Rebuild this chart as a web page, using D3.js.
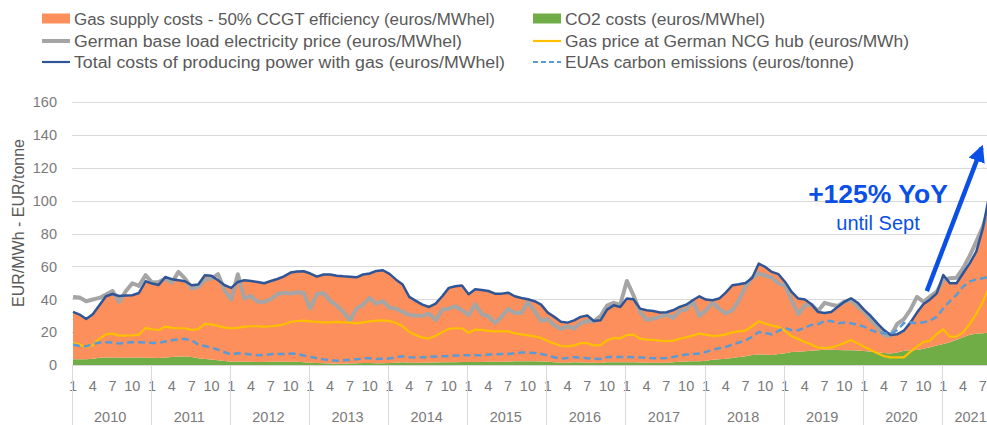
<!DOCTYPE html>
<html>
<head>
<meta charset="utf-8">
<script src="https://cdn.jsdelivr.net/npm/d3@7"></script>
<style>
  html, body { margin: 0; padding: 0; background: #ffffff; overflow: hidden; }
  svg { display: block; }
</style>
</head>
<body>
<svg id="chart" width="987" height="425"></svg>
<script>
// ---------- DATA (monthly, Jan 2010 .. Aug 2021; 2021 group runs to Sept) ----------
const years = ["2010","2011","2012","2013","2014","2015","2016","2017","2018","2019","2020","2021"];
const monthsInYear = [12,12,12,12,12,12,12,12,12,12,12,9];
const monthTickLabels = [1, 4, 7, 10];
const yTicks = [0, 20, 40, 60, 80, 100, 120, 140, 160];

// CO2 costs (euros/MWhel) - green stacked area
const co2Costs = [
  3.6,3.6,3.6,4.0,4.6,4.8,4.8,4.6,4.6,4.7,4.7,4.6,
  4.6,4.5,4.8,5.1,5.3,5.3,5.0,4.3,3.9,3.5,3.1,2.6,
  2.2,2.3,2.2,2.1,2.0,2.0,2.1,2.1,2.1,2.2,2.1,1.9,
  1.6,1.4,1.2,1.1,1.0,1.0,1.1,1.2,1.4,1.4,1.3,1.3,
  1.4,1.6,1.8,1.6,1.6,1.6,1.7,1.7,1.8,1.9,1.9,2.0,
  2.0,2.0,2.0,2.1,2.2,2.2,2.2,2.4,2.5,2.5,2.4,2.3,
  2.1,1.8,1.5,1.6,1.8,1.7,1.6,1.5,1.4,1.8,1.8,1.8,
  1.8,1.8,1.7,1.6,1.6,1.6,1.6,1.8,2.1,2.3,2.4,2.5,
  2.8,3.3,3.6,4.0,4.5,5.0,5.5,6.2,6.6,6.5,6.3,6.8,
  7.3,8.0,8.3,8.5,8.8,9.2,9.5,9.5,9.3,9.2,9.1,9.0,
  8.7,8.3,7.9,7.5,7.2,7.8,8.9,9.2,9.3,10.0,11.0,12.0,
  13.0,14.0,15.5,17.0,18.5,19.2,19.5,19.8
];

// Gas supply costs - 50% CCGT efficiency (euros/MWhel) - orange stacked area
const gasSupplyCosts = [
  28.8,27.2,24.5,27.0,31.8,37.1,38.5,37.5,37.7,37.8,39.2,46.4,
  45.0,44.3,48.8,47.1,46.3,45.7,43.6,44.7,50.8,50.8,48.5,46.0,
  44.8,48.3,49.4,49.1,48.6,47.8,49.1,50.3,51.9,54.1,54.8,55.2,
  54.1,52.4,53.9,54.0,53.3,53.0,52.7,52.2,53.7,54.3,56.0,56.4,
  54.1,50.4,47.2,39.9,37.5,35.2,33.7,35.7,40.1,45.1,46.1,46.4,
  41.1,44.2,43.7,43.0,41.3,41.3,41.9,39.5,38.4,37.6,36.5,34.5,
  29.9,27.6,25.0,24.3,25.5,27.7,28.6,25.4,25.9,32.0,34.6,33.6,
  38.7,38.3,32.7,31.8,31.4,30.4,30.6,31.6,33.3,34.5,37.1,39.4,
  37.1,36.2,36.9,40.1,44.1,44.2,44.5,46.8,55.1,53.2,50.4,48.5,
  43.3,36.5,32.2,31.4,28.2,23.2,22.3,22.9,26.2,29.3,31.6,29.0,
  24.9,21.6,17.6,13.9,11.2,11.0,12.1,16.7,22.7,27.2,29.0,31.7,
  41.8,35.8,34.3,38.9,43.4,49.8,63.7,84.2
];

// Total costs of producing power with gas (euros/MWhel) - dark blue line
const totalCosts = [
  32.4,30.8,28.1,31.0,36.4,41.9,43.3,42.1,42.3,42.5,43.9,51.0,
  49.6,48.8,53.6,52.2,51.6,51.0,48.6,49.0,54.7,54.3,51.6,48.6,
  47.0,50.6,51.6,51.2,50.6,49.8,51.2,52.4,54.0,56.3,56.9,57.1,
  55.7,53.8,55.1,55.1,54.3,54.0,53.8,53.4,55.1,55.7,57.3,57.7,
  55.5,52.0,49.0,41.5,39.1,36.8,35.4,37.4,41.9,47.0,48.0,48.4,
  43.1,46.2,45.7,45.1,43.5,43.5,44.1,41.9,40.9,40.1,38.9,36.8,
  32.0,29.4,26.5,25.9,27.3,29.4,30.2,26.9,27.3,33.8,36.4,35.4,
  40.5,40.1,34.4,33.4,33.0,32.0,32.2,33.4,35.4,36.8,39.5,41.9,
  39.9,39.5,40.5,44.1,48.6,49.2,50.0,53.0,61.7,59.7,56.7,55.3,
  50.6,44.5,40.5,39.9,37.0,32.4,31.8,32.4,35.5,38.5,40.7,38.0,
  33.6,29.9,25.5,21.4,18.4,18.8,21.0,25.9,32.0,37.2,40.0,43.7,
  54.8,49.8,49.8,55.9,61.9,69.0,83.2,104.0
];

// German base load electricity price (euros/MWhel) - grey line
const electricityPrice = [
  41.5,41.1,38.9,39.9,40.9,42.9,45.1,38.5,44.9,49.8,48.2,54.7,
  50.2,50.6,52.6,50.2,56.7,52.6,46.6,47.6,52.0,52.6,55.3,45.5,
  40.0,55.3,40.5,42.1,38.5,38.5,40.1,43.1,44.1,43.5,44.3,43.9,
  34.4,43.3,43.9,39.1,36.4,32.4,27.3,34.4,36.8,40.9,37.4,38.9,
  35.0,34.4,32.4,30.6,30.2,30.0,31.4,27.5,33.8,34.4,35.8,33.4,
  30.4,37.0,31.0,29.8,25.7,29.4,34.2,31.8,31.8,38.5,32.8,26.9,
  28.0,24.3,22.1,23.7,22.3,25.7,26.9,26.7,29.8,36.2,37.9,36.8,
  51.2,42.5,32.4,27.7,28.3,29.4,30.8,28.7,33.0,33.8,39.0,30.0,
  33.4,37.9,34.4,31.4,33.4,39.5,47.6,53.2,55.7,54.5,53.2,49.6,
  48.6,39.5,31.0,36.4,36.8,33.0,37.9,36.8,36.0,38.6,39.7,35.6,
  32.6,27.5,23.5,18.4,17.8,25.1,27.9,33.6,41.5,38.5,41.7,44.7,
  51.8,52.8,53.2,58.9,66.4,75.1,84.2,96.3
];

// Gas price at German NCG hub (euros/MWh) - yellow line
const gasPrice = [
  13.6,12.6,11.1,12.1,16.2,18.8,19.2,18.0,18.0,18.2,18.6,22.7,
  21.9,21.3,23.5,22.7,22.5,22.5,21.5,21.9,25.1,24.9,23.9,22.9,
  22.5,22.7,23.5,23.7,23.7,23.5,23.7,24.1,24.9,26.3,26.9,27.1,
  26.7,26.3,26.1,26.1,26.3,26.1,25.9,25.5,26.1,26.7,27.1,27.3,
  26.8,25.7,23.7,20.2,18.4,16.8,16.2,18.0,20.0,22.1,22.5,22.5,
  19.6,21.7,21.5,20.9,20.6,20.6,20.6,19.4,18.8,18.2,17.6,16.6,
  14.8,13.2,11.7,11.5,12.1,13.4,13.4,12.1,12.3,15.2,16.6,16.4,
  18.4,18.6,16.2,15.6,15.4,15.0,14.6,15.0,16.0,17.0,18.0,19.2,
  18.6,17.8,18.0,18.8,20.0,20.6,21.1,23.7,26.7,25.3,24.1,23.3,
  20.9,17.6,16.0,14.2,12.6,10.7,10.5,10.9,12.0,13.5,15.4,13.3,
  11.3,9.3,7.3,5.6,4.8,4.8,4.8,8.1,11.3,14.2,15.0,19.0,
  21.8,17.4,17.4,20.0,25.1,31.2,38.6,47.7
];

// EUAs carbon emissions (euros/tonne) - dashed light-blue line
const euaPrice = [
  12.6,11.7,11.5,12.8,13.8,14.0,13.8,13.2,13.8,14.0,14.0,13.8,
  13.6,13.6,14.4,15.2,15.8,16.0,15.2,12.6,11.7,10.7,9.5,7.9,
  6.6,7.3,7.1,6.5,6.1,6.3,6.7,6.9,6.9,7.1,6.9,5.9,
  5.1,4.3,3.6,3.2,2.8,3.0,3.4,3.6,4.3,4.3,3.8,4.0,
  4.2,4.9,5.5,4.9,4.7,4.9,5.1,5.3,5.5,5.7,5.9,6.1,
  6.1,6.1,6.1,6.5,6.7,6.9,6.9,7.3,7.7,7.7,7.5,6.9,
  6.0,4.9,4.0,4.5,4.9,4.7,4.3,4.0,3.8,4.9,5.1,5.1,
  5.1,4.9,4.7,4.5,4.3,4.3,4.5,5.1,5.9,6.5,6.8,7.1,
  8.1,9.5,10.3,11.1,12.6,13.8,15.2,17.2,20.2,19.6,18.8,20.9,
  22.7,21.3,21.3,22.9,24.5,24.9,26.9,26.9,25.5,25.9,25.5,24.5,
  23.5,21.4,20.0,19.4,19.0,21.4,25.5,26.1,25.5,26.1,27.1,29.5,
  34.6,39.0,42.7,47.8,50.8,52.2,52.8,53.8
];

const legendLabels = [
  "Gas supply costs - 50% CCGT efficiency (euros/MWhel)",
  "CO2 costs (euros/MWhel)",
  "German base load electricity price (euros/MWhel)",
  "Gas price at German NCG hub  (euros/MWh)",
  "Total costs of producing power with gas (euros/MWhel)",
  "EUAs carbon emissions (euros/tonne)"
];
const yAxisTitle = "EUR/MWh - EUR/tonne";
const annotationMain = "+125% YoY";
const annotationSub = "until Sept";

// ---------- STYLE / LAYOUT ----------
const W = 987, H = 425;
const C = {
  orange: "#FC8F5B", green: "#70AD47", grey: "#A5A5A5", yellow: "#FFC000",
  blue: "#2F5597", dash: "#5B9BD5", grid: "#D9D9D9", text: "#595959", tick: "#7A7A7A",
  arrow: "#0A50E6"
};
const font = "'Liberation Sans', Arial, sans-serif";

const svg = d3.select("#chart");

const n = totalCosts.length;
const monthStep = 79.12 / 12;
const x = d3.scaleLinear().domain([0, n - 1]).range([73, 73 + (n - 1) * monthStep]);
const y = d3.scaleLinear().domain([0, 160]).range([365.3, 101.7]);
const plotLeft = 72, plotRight = W;

// gridlines
svg.append("g").selectAll("line").data(yTicks).join("line")
  .attr("x1", plotLeft).attr("x2", plotRight)
  .attr("y1", d => Math.round(y(d)) + 0.5).attr("y2", d => Math.round(y(d)) + 0.5)
  .attr("stroke", C.grid).attr("stroke-width", 1);

// y axis tick labels via d3.axisLeft (domain hidden)
const yAxis = svg.append("g").attr("transform", "translate(60,0)")
  .call(d3.axisLeft(y).tickValues(yTicks).tickSize(0).tickPadding(3));
yAxis.select(".domain").remove();
yAxis.selectAll("text").attr("fill", C.tick).style("font-family", font).style("font-size", "14.5px");

// y axis title
svg.append("text")
  .attr("transform", `translate(24,223) rotate(-90)`)
  .attr("text-anchor", "middle")
  .attr("fill", C.text).style("font-family", font).style("font-size", "16px")
  .text(yAxisTitle);

// stacked areas
const idx = d3.range(n);
const stackData = idx.map(i => ({ co2: co2Costs[i], gas: gasSupplyCosts[i] }));
const stacked = d3.stack().keys(["co2", "gas"])(stackData);
const area = d3.area().x((d, i) => x(i)).y0(d => y(d[0])).y1(d => y(d[1]));
svg.append("g").selectAll("path").data(stacked).join("path")
  .attr("d", area)
  .attr("fill", d => d.key === "co2" ? C.green : C.orange);

// lines
const lineGen = arr => d3.line().x((d, i) => x(i)).y(d => y(d))(arr);
svg.append("path").attr("d", lineGen(electricityPrice)).attr("fill", "none")
  .attr("stroke", C.grey).attr("stroke-width", 4).attr("stroke-linejoin", "round");
svg.append("path").attr("d", lineGen(gasPrice)).attr("fill", "none")
  .attr("stroke", C.yellow).attr("stroke-width", 2.2).attr("stroke-linejoin", "round");
svg.append("path").attr("d", lineGen(totalCosts)).attr("fill", "none")
  .attr("stroke", C.blue).attr("stroke-width", 2.5).attr("stroke-linejoin", "round");
svg.append("path").attr("d", lineGen(euaPrice)).attr("fill", "none")
  .attr("stroke", C.dash).attr("stroke-width", 2.5).attr("stroke-dasharray", "7,4");

// x axis baseline
svg.append("line").attr("x1", plotLeft).attr("x2", plotRight)
  .attr("y1", Math.round(y(0)) + 0.5).attr("y2", Math.round(y(0)) + 0.5)
  .attr("stroke", C.grid).attr("stroke-width", 1);

// month labels and year groups
const monthG = svg.append("g");
let start = 0;
years.forEach((yr, k) => {
  const len = monthsInYear[k];
  monthTickLabels.filter(m => m <= len).forEach(m => {
    const i = start + (m - 1);
    monthG.append("text")
      .attr("x", x(i)).attr("y", 391)
      .attr("text-anchor", "middle")
      .attr("fill", C.tick).style("font-family", font).style("font-size", "14.5px")
      .text(m);
  });
  const bx0 = x(start) - 1.4, bx1 = x(start + len) - 1.4;
  svg.append("line").attr("x1", Math.round(bx0) + 0.5).attr("x2", Math.round(bx0) + 0.5)
    .attr("y1", y(0)).attr("y2", H).attr("stroke", C.grid).attr("stroke-width", 1);
  svg.append("text").attr("x", (bx0 + bx1) / 2 - 1).attr("y", 422)
    .attr("text-anchor", "middle")
    .attr("fill", C.tick).style("font-family", font).style("font-size", "14.5px")
    .text(yr);
  start += len;
});

// legend
const legendItems = [
  { label: legendLabels[0], kind: "rect", color: C.orange, col: 0, row: 0, len: 421 },
  { label: legendLabels[1], kind: "rect", color: C.green, col: 1, row: 0, len: 200 },
  { label: legendLabels[2], kind: "line", color: C.grey, w: 4, col: 0, row: 1, len: 388 },
  { label: legendLabels[3], kind: "line", color: C.yellow, w: 2.2, col: 1, row: 1, len: 344 },
  { label: legendLabels[4], kind: "line", color: C.blue, w: 2.2, col: 0, row: 2, len: 431 },
  { label: legendLabels[5], kind: "dash", color: C.dash, w: 2.2, col: 1, row: 2, len: 289 }
];
const colX = [42, 533], rowY = [18.5, 41, 62];
const lg = svg.append("g");
legendItems.forEach(it => {
  const sx = colX[it.col], cy = rowY[it.row];
  if (it.kind === "rect") {
    lg.append("rect").attr("x", sx).attr("y", cy - 5).attr("width", 28).attr("height", 10).attr("fill", it.color);
  } else {
    lg.append("line").attr("x1", sx).attr("x2", sx + 28).attr("y1", cy).attr("y2", cy)
      .attr("stroke", it.color).attr("stroke-width", it.w)
      .attr("stroke-dasharray", it.kind === "dash" ? "5,3" : null);
  }
  lg.append("text").attr("x", sx + 32).attr("y", cy + 6)
    .attr("fill", C.text).style("font-family", font).style("font-size", "16px")
    .attr("textLength", it.len).attr("lengthAdjust", "spacingAndGlyphs")
    .text(it.label);
});

// annotation arrow
const defs = svg.append("defs");
defs.append("marker").attr("id", "arrowHead")
  .attr("viewBox", "0 0 10 10").attr("refX", 8).attr("refY", 5)
  .attr("markerWidth", 3.8).attr("markerHeight", 3.8).attr("orient", "auto")
  .append("path").attr("d", "M0,0 L10,5 L0,10 z").attr("fill", C.arrow);
svg.append("line")
  .attr("x1", x(129.5)).attr("y1", y(45))
  .attr("x2", x(137.8)).attr("y2", y(132))
  .attr("stroke", C.arrow).attr("stroke-width", 4.5)
  .attr("marker-end", "url(#arrowHead)");

svg.append("text").attr("x", 878).attr("y", 203)
  .attr("text-anchor", "middle").attr("fill", C.arrow)
  .style("font-family", font).style("font-size", "26.5px").style("font-weight", "bold")
  .text(annotationMain);
svg.append("text").attr("x", 878).attr("y", 229.5)
  .attr("text-anchor", "middle").attr("fill", C.arrow)
  .style("font-family", font).style("font-size", "20px")
  .text(annotationSub);
</script>
</body>
</html>
